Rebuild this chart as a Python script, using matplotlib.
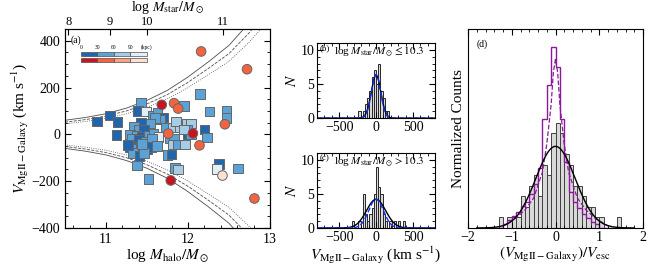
import matplotlib
matplotlib.use("Agg")
import matplotlib.pyplot as plt
import numpy as np
from matplotlib.patches import Rectangle
from matplotlib.ticker import MultipleLocator

plt.rcParams['font.family'] = ['Liberation Serif', 'DejaVu Serif']
plt.rcParams['mathtext.fontset'] = 'stix'
plt.rcParams['xtick.direction'] = 'in'
plt.rcParams['ytick.direction'] = 'in'
plt.rcParams['axes.linewidth'] = 0.8

# ---- panel (a): halo mass vs velocity offset ----
# squares: (log Mhalo, V, distance class 0..3)
sq_mhalo = [10.89, 11.05, 11.14, 11.13, 11.43, 11.39, 11.49, 11.57, 11.63, 11.70,
            11.66, 11.60, 11.54, 11.43, 11.34, 11.40, 11.46, 11.29, 11.37, 11.44,
            11.52, 11.58, 11.64, 11.31, 11.40, 11.48, 11.56, 11.29, 11.35, 11.42,
            11.50, 11.55, 11.33, 11.41, 11.46, 11.38, 11.44, 11.27, 11.52, 11.62,
            11.73, 11.81, 11.90, 11.85, 11.99, 12.04, 11.99, 12.00, 12.04, 12.20,
            12.23, 11.78, 11.83, 11.82, 11.88, 11.96, 11.75, 11.80, 11.84, 11.88,
            11.95, 12.15, 12.26, 12.47, 12.47, 12.38, 12.35, 12.61, 11.95]
sq_v = [54, 81, 53, -3, 136, 100, 97, 80, 90, 72,
        64, 70, 46, 50, 33, 20, 18, 0, -5, -10,
        -5, 2, -11, -20, -25, -30, -20, -54, -60, -55,
        -65, -55, -80, -93, -80, -133, -40, -45, -190, -50,
        29, 29, 29, 54, 46, 46, 21, 0, 0, 21,
        -14, -18, -20, -43, -43, -43, -89, -86, -143, -150,
        121, 171, 97, 100, 69, -128, -147, -146, 20]
sq_cls = [0, 0, 0, 0, 1, 0, 3, 1, 1, 0,
          1, 1, 1, 0, 1, 1, 0, 1, 1, 0,
          1, 1, 3, 1, 0, 1, 1, 0, 1, 0,
          0, 0, 1, 0, 1, 1, 1, 0, 1, 1,
          1, 2, 2, 2, 2, 2, 1, 0, 1, 0,
          1, 1, 1, 2, 1, 2, 1, 0, 1, 2,
          1, 1, 1, 1, 1, 0, 3, 1, 2]

ci_mhalo = [11.68, 11.83, 11.88, 12.16, 12.72, 12.45, 11.76, 12.06, 12.14, 11.79, 12.42, 12.81]
ci_v = [126, 133, 110, 354, 278, 43, 3, 4, -47, -197, -176, -274]
ci_cls = [0, 1, 1, 1, 1, 1, 1, 0, 1, 0, 3, 1]

blues = ['#2166ac', '#5ba3d6', '#a9cce6', '#e4eef8']
reds = ['#c8141e', '#f4633f', '#f9a383', '#fde0d0']
dist_labels = ['0', '30', '60', '90', '(kpc)']

# escape velocity curves
esc_mhalo = [10.5, 10.75, 11.0, 11.25, 11.5, 11.75, 12.0, 12.25, 12.5, 12.75, 13.0]
esc_outer = [60, 72, 88, 112, 145, 188, 245, 310, 380, 478, 598]
esc_mid = [52, 63, 78, 100, 130, 170, 222, 282, 345, 435, 545]
esc_inner = [45, 55, 68, 88, 115, 152, 200, 255, 312, 395, 495]

# top axis: stellar mass ticks at halo mass positions
mstar_ticks = [8, 9, 10, 11]
mstar_at_mhalo = [10.54, 11.05, 11.5, 12.43]

# ---- panels (b), (c): velocity histograms ----
bin_w = 30
b_left = [-240, -180, -150, -120, -90, -60, -30, 0, 30, 60, 90, 120, 150]
b_cnt = [1, 1, 2, 3, 4, 6, 7, 5, 8, 4, 3, 1, 1]
c_left = [-330, -240, -180, -150, -120, -90, -60, -30, 0, 30, 60, 90, 120, 180, 240, 300, 360]
c_cnt = [1, 1, 5, 2, 1, 2, 3, 5, 9, 6, 5, 2, 1, 1, 1, 1, 1]
b_fit = dict(amp=6.3, mu=0, sig=65)
b_fit2 = dict(amp=6.4, mu=0, sig=62)
c_fit = dict(amp=4.2, mu=0, sig=130)
c_fit2 = dict(amp=4.2, mu=0, sig=100)

# ---- panel (d): normalized histograms ----
d_left = np.round(np.arange(-1.4, 1.6, 0.1), 2)
d_gray = [0, 1, 0, 1, 1, 1, 3, 2, 4, 5, 3, 6, 5, 9, 10, 9, 7, 6, 4, 4, 3, 2, 2, 1, 1, 0, 0, 0, 1, 0]
d_purple = [0, 0, 0.02, 0.04, 0.06, 0.08, 0.11, 0.13, 0.17, 0.22, 0.30, 0.55, 0.72, 0.91, 0.81, 0.55, 0.33, 0.18, 0.13, 0.10,
            0.07, 0.05, 0.03, 0.02, 0, 0, 0, 0, 0, 0]
d_dash_x = [-1.2, -0.9, -0.7, -0.5, -0.3, -0.2, -0.1, -0.05, 0.0, 0.05, 0.1, 0.2, 0.3, 0.5, 0.7, 0.9, 1.2]
d_dash_y = [0.01, 0.05, 0.09, 0.15, 0.28, 0.42, 0.62, 0.78, 0.85, 0.78, 0.62, 0.42, 0.28, 0.15, 0.09, 0.05, 0.01]
d_fit = dict(amp=0.41, mu=0, sig=0.45)
unit_d = 0.053

fig = plt.figure(figsize=(6.53, 2.76), dpi=100)

# panel a
ax = fig.add_axes([0.0995, 0.174, 0.314, 0.721])
ax.plot(esc_mhalo, esc_outer, '-', color='0.3', lw=0.6)
ax.plot(esc_mhalo, esc_mid, '--', color='0.3', lw=0.6)
ax.plot(esc_mhalo, esc_inner, ':', color='0.3', lw=0.6)
ax.plot(esc_mhalo, [-v for v in esc_outer], '-', color='0.3', lw=0.6)
ax.plot(esc_mhalo, [-v for v in esc_mid], '--', color='0.3', lw=0.6)
ax.plot(esc_mhalo, [-v for v in esc_inner], ':', color='0.3', lw=0.6)
ax.scatter(sq_mhalo, sq_v, marker='s', s=48, c=[blues[k] for k in sq_cls],
           edgecolors='0.4', linewidths=0.7, zorder=3)
ax.scatter(ci_mhalo, ci_v, marker='o', s=48, c=[reds[k] for k in ci_cls],
           edgecolors='0.4', linewidths=0.7, zorder=4)
ax.set_xlim(10.5, 13)
ax.set_ylim(-400, 450)
ax.xaxis.set_major_locator(MultipleLocator(1))
ax.xaxis.set_minor_locator(MultipleLocator(0.2))
ax.yaxis.set_major_locator(MultipleLocator(200))
ax.yaxis.set_minor_locator(MultipleLocator(50))
ax.tick_params(which='both', right=True, labelsize=10)
ax.tick_params(which='major', length=4)
ax.tick_params(which='minor', length=2)
ax.set_xlabel(r'log $M_{\rm halo}/M_\odot$', fontsize=11, labelpad=1)
ax.set_ylabel(r'$V_{\rm MgII-Galaxy}$ (km s$^{-1}$)', fontsize=11, labelpad=0)
ax.text(0.03, 0.97, '(a)', transform=ax.transAxes, fontsize=7, va='top')
for i in range(4):
    x0 = 0.078 + i * 0.0805
    ax.add_patch(Rectangle((x0, 0.866), 0.0805, 0.02, transform=ax.transAxes,
                           facecolor=blues[i], edgecolor='0.3', lw=0.5, zorder=5))
    ax.add_patch(Rectangle((x0, 0.832), 0.0805, 0.02, transform=ax.transAxes,
                           facecolor=reds[i], edgecolor='0.3', lw=0.5, zorder=5))
for i, lab in enumerate(dist_labels):
    ax.text(0.078 + i * 0.0805, 0.893, lab, transform=ax.transAxes, fontsize=4,
            ha='center', va='bottom')
top = ax.twiny()
top.set_xlim(ax.get_xlim())
top.set_xticks(mstar_at_mhalo)
top.set_xticklabels([str(t) for t in mstar_ticks])
top.tick_params(direction='in', labelsize=9, length=4, pad=1)
fig.text(0.2565, 0.972, r'log $M_{\rm star}/M_\odot$', fontsize=10,
         ha='center', va='center')


def gauss(x, p):
    return p['amp'] * np.exp(-0.5 * ((x - p['mu']) / p['sig']) ** 2)


vv = np.linspace(-800, 800, 400)
for rect, left, cnt, fit, fit2, label in [
        ([0.4854, 0.572, 0.181, 0.272], b_left, b_cnt, b_fit, b_fit2,
         r'log $M_{\rm star}/M_\odot \leq 10.3$'),
        ([0.4854, 0.174, 0.181, 0.272], c_left, c_cnt, c_fit, c_fit2,
         r'log $M_{\rm star}/M_\odot > 10.3$')]:
    axh = fig.add_axes(rect)
    axh.bar(left, cnt, width=bin_w, align='edge', facecolor='#d9d9d9',
            edgecolor='0.15', lw=0.7)
    axh.plot(vv, gauss(vv, fit), color='k', lw=1.0)
    axh.plot(vv, gauss(vv, fit2), '--', color='#1030ff', lw=1.0)
    axh.set_xlim(-800, 800)
    axh.set_ylim(0, 11)
    axh.xaxis.set_major_locator(MultipleLocator(500))
    axh.xaxis.set_minor_locator(MultipleLocator(100))
    axh.yaxis.set_major_locator(MultipleLocator(5))
    axh.yaxis.set_minor_locator(MultipleLocator(1))
    axh.tick_params(which='both', top=True, right=True, labelsize=10, pad=2)
    axh.tick_params(which='major', length=4)
    axh.tick_params(which='minor', length=2)
    axh.set_ylabel(r'$N$', fontsize=11, labelpad=1)
    tag = '(b)' if rect[1] > 0.5 else '(c)'
    axh.text(0.02, 0.98, tag, transform=axh.transAxes, fontsize=6.5, va='top')
    axh.text(0.14, 0.98, label, transform=axh.transAxes, fontsize=8, va='top')
axh.set_xlabel(r'$V_{\rm MgII-Galaxy}$ (km s$^{-1}$)', fontsize=11, labelpad=1)

# panel d
axd = fig.add_axes([0.7167, 0.174, 0.268, 0.721])
axd.bar(d_left, [c * unit_d for c in d_gray], width=0.1, align='edge',
        facecolor='#d9d9d9', edgecolor='0.25', lw=0.7)
edges = list(d_left) + [d_left[-1] + 0.1]
axd.stairs(d_purple, edges, color='#8b1a9b', lw=1.0)
axd.plot(d_dash_x, d_dash_y, '--', color='#8b1a9b', lw=0.9)
xx = np.linspace(-1.8, 1.8, 300)
axd.plot(xx, gauss(xx, d_fit), color='k', lw=1.0)
axd.set_xlim(-2, 2)
axd.set_ylim(0, 1.0)
axd.xaxis.set_major_locator(MultipleLocator(1))
axd.xaxis.set_minor_locator(MultipleLocator(0.2))
axd.set_yticks([])
axd.tick_params(which='both', top=True, labelsize=10, pad=2)
axd.tick_params(which='major', length=4)
axd.tick_params(which='minor', length=2)
axd.set_xlabel(r'$(V_{\rm MgII-Galaxy})/V_{\rm esc}$', fontsize=11, labelpad=1)
axd.set_ylabel('Normalized Counts', fontsize=11, labelpad=2)
axd.text(0.05, 0.95, '(d)', transform=axd.transAxes, fontsize=7, va='top')

fig.savefig('out.png', dpi=100)
